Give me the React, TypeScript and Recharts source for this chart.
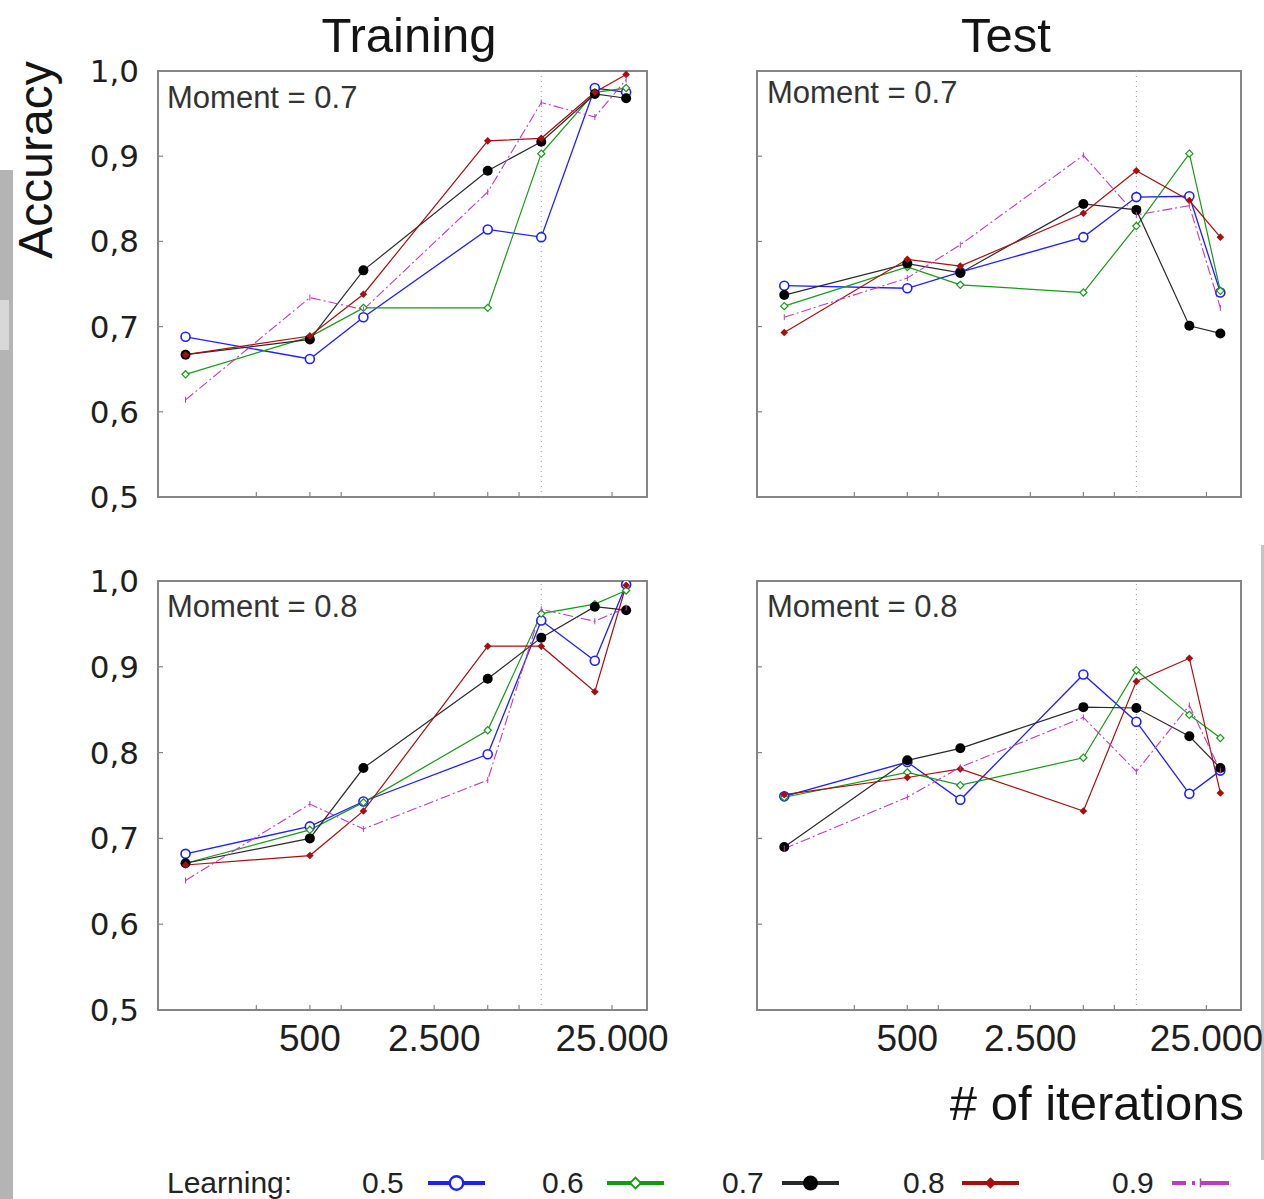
import React from 'react';
import { LineChart, Line, XAxis, YAxis, ReferenceArea, ReferenceLine } from 'recharts';

// ---------- data ----------
const ITERATIONS = [100, 500, 1000, 5000, 10000, 20000, 30000];
const LEARNING_RATES = ['0.5', '0.6', '0.7', '0.8', '0.9'];
const SERIES_KEYS = ['lr05', 'lr06', 'lr07', 'lr08', 'lr09'];
const Y_TICKS = [0.5, 0.6, 0.7, 0.8, 0.9, 1.0];
const X_TICKS = [250, 500, 750, 2500, 5000, 7500, 25000];
const X_TICK_LABELS = [500, 2500, 25000];
const X_DOMAIN = [70, 39300];
const Y_DOMAIN = [0.5, 1.0];
const SPLIT_ITERATION = 10000;

const PANEL_TITLES = ['Training', 'Test'];
const MOMENT_LABELS = ['Moment = 0.7', 'Moment = 0.8'];

// Training, moment 0.7
const TRAIN_M07_LR05 = [0.688, 0.662, 0.711, 0.814, 0.805, 0.980, 0.975];
const TRAIN_M07_LR06 = [0.644, 0.688, 0.722, 0.722, 0.903, 0.975, 0.980];
const TRAIN_M07_LR07 = [0.667, 0.685, 0.766, 0.883, 0.917, 0.973, 0.968];
const TRAIN_M07_LR08 = [0.667, 0.689, 0.738, 0.918, 0.921, 0.975, 0.996];
const TRAIN_M07_LR09 = [0.614, 0.734, 0.720, 0.858, 0.963, 0.946, 0.990];

// Test, moment 0.7
const TEST_M07_LR05 = [0.748, 0.745, 0.764, 0.805, 0.852, 0.853, 0.740];
const TEST_M07_LR06 = [0.724, 0.770, 0.749, 0.740, 0.818, 0.903, 0.742];
const TEST_M07_LR07 = [0.737, 0.774, 0.763, 0.844, 0.837, 0.701, 0.692];
const TEST_M07_LR08 = [0.693, 0.779, 0.771, 0.833, 0.883, 0.848, 0.805];
const TEST_M07_LR09 = [0.711, 0.757, 0.796, 0.901, 0.831, 0.842, 0.722];

// Training, moment 0.8
const TRAIN_M08_LR05 = [0.682, 0.714, 0.743, 0.798, 0.954, 0.907, 0.996];
const TRAIN_M08_LR06 = [0.671, 0.710, 0.742, 0.826, 0.962, 0.973, 0.989];
const TRAIN_M08_LR07 = [0.671, 0.700, 0.782, 0.886, 0.934, 0.970, 0.966];
const TRAIN_M08_LR08 = [0.669, 0.680, 0.732, 0.924, 0.924, 0.871, 0.995];
const TRAIN_M08_LR09 = [0.651, 0.740, 0.711, 0.768, 0.967, 0.953, 0.969];

// Test, moment 0.8
const TEST_M08_LR05 = [0.749, 0.789, 0.745, 0.891, 0.836, 0.752, 0.779];
const TEST_M08_LR06 = [0.748, 0.777, 0.762, 0.794, 0.896, 0.844, 0.817];
const TEST_M08_LR07 = [0.690, 0.791, 0.805, 0.853, 0.852, 0.819, 0.782];
const TEST_M08_LR08 = [0.751, 0.771, 0.781, 0.732, 0.883, 0.910, 0.753];
const TEST_M08_LR09 = [0.688, 0.748, 0.783, 0.841, 0.778, 0.855, 0.779];

// ---------- styles ----------
const SERIES_STYLE = [
  { color: '#1e1eff', width: 1.3, dash: undefined, marker: 'openCircle' },
  { color: '#169a16', width: 1.2, dash: undefined, marker: 'openDiamond' },
  { color: '#2a2a2a', width: 1.2, dash: undefined, marker: 'filledCircle' },
  { color: '#a80e0e', width: 1.2, dash: undefined, marker: 'filledDiamond' },
  { color: '#c23ac2', width: 1.1, dash: '10 3 2 3', marker: 'tick' },
];

const FONT = "'Liberation Sans', Arial, Helvetica, sans-serif";
const TICK_FONT = "'DejaVu Sans', Verdana, sans-serif";
const FRAME = '#858585';

function buildRows(series: number[][]) {
  return ITERATIONS.map((it, i) => {
    const row: any = { it };
    SERIES_KEYS.forEach((k, s) => {
      row[k] = series[s][i];
    });
    return row;
  });
}

const TRAIN_M07 = buildRows([TRAIN_M07_LR05, TRAIN_M07_LR06, TRAIN_M07_LR07, TRAIN_M07_LR08, TRAIN_M07_LR09]);
const TEST_M07 = buildRows([TEST_M07_LR05, TEST_M07_LR06, TEST_M07_LR07, TEST_M07_LR08, TEST_M07_LR09]);
const TRAIN_M08 = buildRows([TRAIN_M08_LR05, TRAIN_M08_LR06, TRAIN_M08_LR07, TRAIN_M08_LR08, TRAIN_M08_LR09]);
const TEST_M08 = buildRows([TEST_M08_LR05, TEST_M08_LR06, TEST_M08_LR07, TEST_M08_LR08, TEST_M08_LR09]);

function fmtThousands(n: number) {
  return String(n).replace(/\B(?=(\d{3})+(?!\d))/g, '.');
}
function fmtY(v: number) {
  return v.toFixed(1).replace('.', ',');
}

function Marker({ type, color, cx, cy, scale = 1 }: any) {
  if (cx == null || cy == null || isNaN(cx) || isNaN(cy)) return null;
  switch (type) {
    case 'openCircle':
      return <circle cx={cx} cy={cy} r={4.5 * scale} fill="#fff" stroke={color} strokeWidth={1.6 * scale} />;
    case 'openDiamond': {
      const s = 3.6 * scale;
      return (
        <path
          d={`M${cx},${cy - s}L${cx + s},${cy}L${cx},${cy + s}L${cx - s},${cy}Z`}
          fill="#fff"
          stroke={color}
          strokeWidth={1.2 * scale}
        />
      );
    }
    case 'filledCircle':
      return <circle cx={cx} cy={cy} r={5 * scale} fill="#000" />;
    case 'filledDiamond': {
      const s = 3.8 * scale;
      return <path d={`M${cx},${cy - s}L${cx + s},${cy}L${cx},${cy + s}L${cx - s},${cy}Z`} fill={color} />;
    }
    case 'tick':
    default:
      return <line x1={cx} x2={cx} y1={cy - 3 * scale} y2={cy + 3 * scale} stroke={color} strokeWidth={1 * scale} />;
  }
}

function Panel({ left, top, width, height, yAxisWidth, marginRight, xAxisHeight, data, showYLabels, showXLabels }: any) {
  const renderXTick = (p: any) => {
    const v = p.payload.value;
    return (
      <g>
        <line x1={p.x} x2={p.x} y1={p.y} y2={p.y - 5} stroke={FRAME} strokeWidth={1.2} />
        {showXLabels && X_TICK_LABELS.includes(v) ? (
          <text x={p.x} y={p.y + 41} textAnchor="middle" fontSize={37} fontFamily={FONT} fill="#1e1e1e">
            {fmtThousands(v)}
          </text>
        ) : null}
      </g>
    );
  };
  const renderYTick = (p: any) => {
    const v = p.payload.value;
    return (
      <g>
        <line x1={p.x} x2={p.x + 5} y1={p.y} y2={p.y} stroke={FRAME} strokeWidth={1.2} />
        {showYLabels ? (
          <text x={p.x - 19} y={p.y} dy={11} textAnchor="end" fontSize={31} fontFamily={TICK_FONT} fill="#1e1e1e">
            {fmtY(v)}
          </text>
        ) : null}
      </g>
    );
  };
  return (
    <div style={{ position: 'absolute', left, top }}>
      <LineChart width={width} height={height} data={data} margin={{ top: 21, right: marginRight, bottom: 0, left: 0 }}>
        <XAxis
          dataKey="it"
          type="number"
          scale="log"
          domain={X_DOMAIN}
          ticks={X_TICKS}
          allowDataOverflow
          interval={0}
          axisLine={false}
          tickLine={false}
          tickSize={0}
          tickMargin={0}
          height={xAxisHeight}
          tick={renderXTick}
        />
        <YAxis
          type="number"
          domain={Y_DOMAIN}
          ticks={Y_TICKS}
          allowDataOverflow
          interval={0}
          axisLine={false}
          tickLine={false}
          tickSize={0}
          tickMargin={0}
          width={yAxisWidth}
          tick={renderYTick}
        />
        <ReferenceArea
          x1={X_DOMAIN[0]}
          x2={X_DOMAIN[1]}
          y1={Y_DOMAIN[0]}
          y2={Y_DOMAIN[1]}
          fill="none"
          fillOpacity={0}
          stroke={FRAME}
          strokeWidth={2}
          ifOverflow="visible"
        />
        <ReferenceLine x={SPLIT_ITERATION} stroke="#9a9a9a" strokeWidth={1} strokeDasharray="1 4" />
        {SERIES_KEYS.map((k, i) => {
          const st = SERIES_STYLE[i];
          return (
            <Line
              key={k}
              dataKey={k}
              type="linear"
              stroke={st.color}
              strokeWidth={st.width}
              strokeDasharray={st.dash}
              isAnimationActive={false}
              activeDot={false}
              dot={(p: any) => <Marker key={`${k}-${p.index}`} type={st.marker} color={st.color} cx={p.cx} cy={p.cy} />}
            />
          );
        })}
      </LineChart>
    </div>
  );
}

const LEGEND_LABEL_X = [362, 542, 722, 903, 1112];
const LEGEND_LINE_X = [428, 607, 782, 962, 1172];

export default function App() {
  return (
    <div style={{ position: 'absolute', left: 0, top: 0, width: 1264, height: 1199, background: '#fff', overflow: 'hidden' }}>
      <svg width={1264} height={1199} style={{ position: 'absolute', left: 0, top: 0 }} fontFamily={FONT}>
        <rect x={0} y={170} width={13} height={1029} fill="#b4b4b4" />
        <rect x={0} y={300} width={9} height={50} fill="#d8d8d8" />
        <rect x={1261} y={545} width={3} height={615} fill="#c4c4c4" />
        <text x={409} y={52} textAnchor="middle" fontSize={49} fill="#141414">
          {PANEL_TITLES[0]}
        </text>
        <text x={1006} y={52} textAnchor="middle" fontSize={49} fill="#141414">
          {PANEL_TITLES[1]}
        </text>
        <text transform="translate(52,160) rotate(-90)" textAnchor="middle" fontSize={48} fill="#141414">
          Accuracy
        </text>
        <text x={1244} y={1120} textAnchor="end" fontSize={49} fill="#141414">
          # of iterations
        </text>
        <text x={167} y={108} fontSize={31} fill="#333">{MOMENT_LABELS[0]}</text>
        <text x={767} y={103} fontSize={31} fill="#333">{MOMENT_LABELS[0]}</text>
        <text x={167} y={617} fontSize={31} fill="#333">{MOMENT_LABELS[1]}</text>
        <text x={767} y={617} fontSize={31} fill="#333">{MOMENT_LABELS[1]}</text>

        <text x={167} y={1193} fontSize={30} fill="#222">Learning:</text>
        {LEARNING_RATES.map((lr, i) => {
          const st = SERIES_STYLE[i];
          const x0 = LEGEND_LINE_X[i];
          const cy = 1183;
          return (
            <g key={lr}>
              <text x={LEGEND_LABEL_X[i]} y={1193} fontSize={30} fill="#222">{lr}</text>
              <line
                x1={x0}
                x2={x0 + 57}
                y1={cy}
                y2={cy}
                stroke={st.color}
                strokeWidth={4}
                strokeDasharray={st.dash ? '14 6 3 6 30' : undefined}
              />
              <Marker type={st.marker} color={st.color} cx={x0 + 28.5} cy={cy} scale={1.5} />
            </g>
          );
        })}
      </svg>

      <Panel left={0} top={50} width={680} height={480} yAxisWidth={158} marginRight={33} xAxisHeight={33}
        data={TRAIN_M07} showYLabels showXLabels={false} />
      <Panel left={700} top={50} width={564} height={480} yAxisWidth={57} marginRight={23} xAxisHeight={33}
        data={TEST_M07} showYLabels={false} showXLabels={false} />
      <Panel left={0} top={560} width={680} height={520} yAxisWidth={158} marginRight={33} xAxisHeight={70}
        data={TRAIN_M08} showYLabels showXLabels />
      <Panel left={700} top={560} width={564} height={520} yAxisWidth={57} marginRight={23} xAxisHeight={70}
        data={TEST_M08} showYLabels={false} showXLabels />
    </div>
  );
}
